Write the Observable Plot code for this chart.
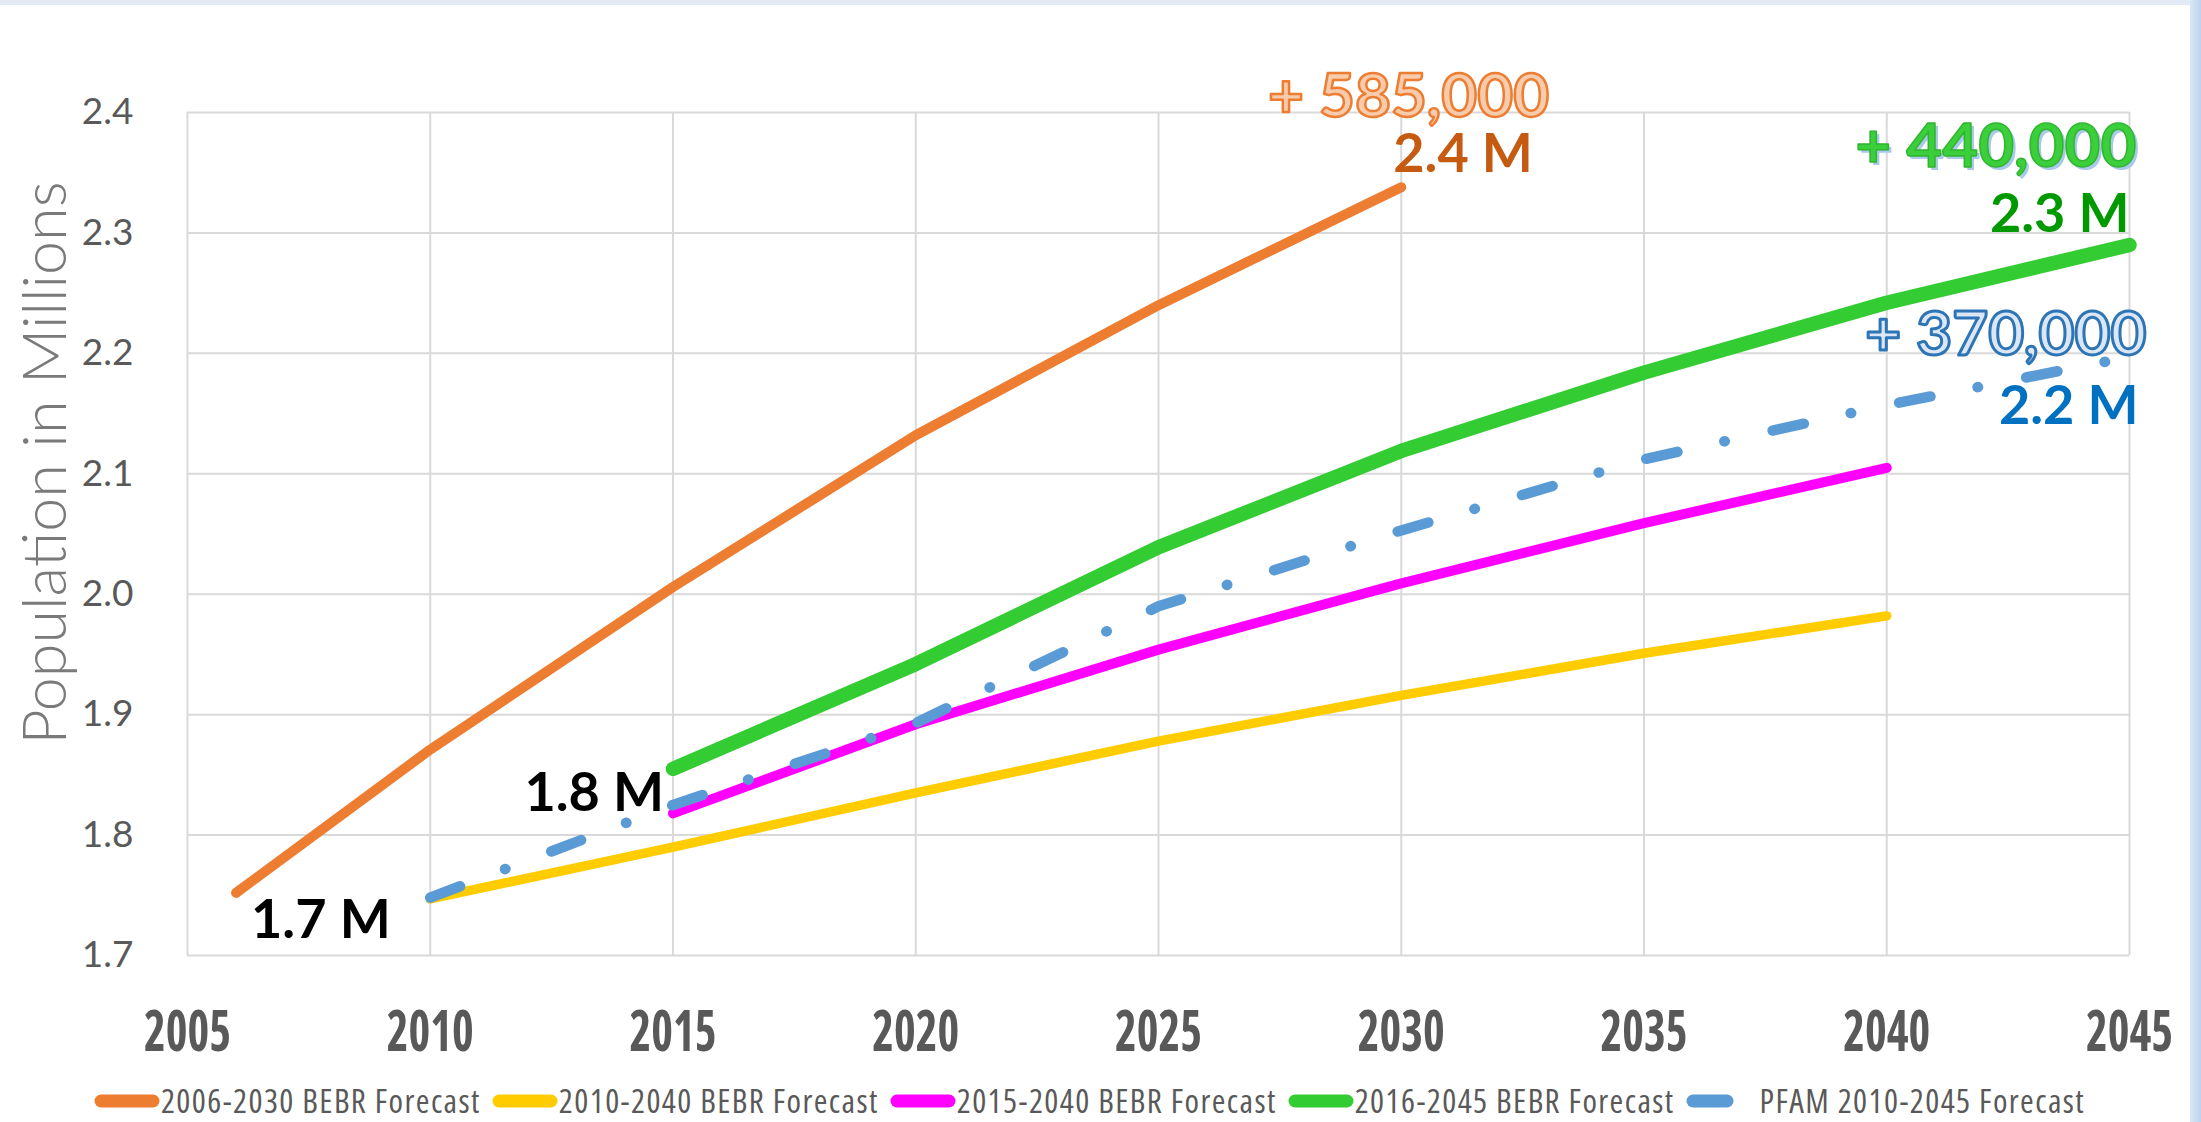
<!DOCTYPE html>
<html>
<head>
<meta charset="utf-8">
<script src="https://cdn.jsdelivr.net/npm/d3@7"></script>
<script src="https://cdn.jsdelivr.net/npm/@observablehq/plot@0.6"></script>
<style>
  html, body { margin: 0; padding: 0; background: #ffffff; }
  body { width: 2201px; height: 1122px; position: relative; overflow: hidden; }
  #topstrip { position: absolute; left: 0; top: 0; width: 100%; height: 5px; background: #e3eaf5; }
  #rightband { position: absolute; right: 0; top: 0; width: 11px; height: 100%; background: linear-gradient(to right, #d9e6f4, #bcd3ec); }
  #chart { position: absolute; left: 0; top: 0; }
  #legend { position: absolute; left: 0; top: 1085px; width: 2190px; height: 32px; display: flex; justify-content: center; align-items: center;
            font-family: "Open Sans", sans-serif; font-stretch: 75%; font-size: 33px; letter-spacing: 1.4px; line-height: 32px; color: #595959; white-space: nowrap; }
  .item { display: flex; align-items: center; margin-right: 11px; height: 32px; }
  .item svg { display: block; margin-right: 1px; }
  .item span { line-height: 32px; }
</style>
</head>
<body>
<div id="topstrip"></div>
<div id="rightband"></div>
<div id="chart"></div>
<div id="legend"></div>
<script>
// ---- data ----
const xTicks = [2005, 2010, 2015, 2020, 2025, 2030, 2035, 2040, 2045];
const yTicks = [1.7, 1.8, 1.9, 2.0, 2.1, 2.2, 2.3, 2.4];

const seriesNames = [
  "2006-2030 BEBR Forecast",
  "2010-2040 BEBR Forecast",
  "2015-2040 BEBR Forecast",
  "2016-2045 BEBR Forecast",
  "PFAM 2010-2045 Forecast"
];

const orangeYears  = [2006, 2010, 2015, 2020, 2025, 2030];
const orangeValues = [1.752, 1.871, 2.006, 2.132, 2.240, 2.338];

const yellowYears  = [2010, 2015, 2020, 2025, 2030, 2035, 2040];
const yellowValues = [1.747, 1.790, 1.835, 1.878, 1.916, 1.951, 1.982];

const magentaYears  = [2015, 2020, 2025, 2030, 2035, 2040];
const magentaValues = [1.818, 1.892, 1.954, 2.009, 2.059, 2.105];

const greenYears  = [2015, 2020, 2025, 2030, 2035, 2040, 2045];
const greenValues = [1.855, 1.942, 2.039, 2.119, 2.184, 2.242, 2.290];

const blueYears  = [2010, 2015, 2020, 2025, 2030, 2035, 2040, 2045];
const blueValues = [1.748, 1.825, 1.893, 1.990, 2.053, 2.112, 2.157, 2.197];

const labelTexts = ["1.7 M", "1.8 M", "2.4 M", "+ 585,000", "2.3 M", "+ 440,000", "+ 370,000", "2.2 M"];

// ---- build tables ----
const toRows = (ys, vs) => ys.map((y, i) => ({year: y, value: vs[i]}));
const orange = toRows(orangeYears, orangeValues);
const yellow = toRows(yellowYears, yellowValues);
const magenta = toRows(magentaYears, magentaValues);
const green = toRows(greenYears, greenValues);
const blue = toRows(blueYears, blueValues);

const colors = ["#ed7d31", "#ffcc00", "#ff00ff", "#33cc33", "#5b9bd5"];

const bigFont = "Lato, 'Open Sans', sans-serif";
const condFont = "'Open Sans', sans-serif";

function lbl(text, row, opts) {
  return Plot.text([text], {x: [row.year], y: [row.value], text: [text],
    fontFamily: bigFont, fontWeight: "bold", lineAnchor: "middle", ...opts});
}
const last = a => a[a.length - 1];

const lineStyle = {x: "year", y: "value", strokeLinecap: "round", strokeLinejoin: "round"};

const chart = Plot.plot({
  width: 2201,
  height: 1084,
  marginLeft: 187,
  marginRight: 72,
  marginTop: 112,
  marginBottom: 129,
  style: {background: "transparent", overflow: "visible"},
  x: {domain: [2005, 2045]},
  y: {domain: [1.7, 2.4]},
  marks: [
    Plot.gridX(xTicks, {stroke: "#d9d9d9", strokeOpacity: 1, strokeWidth: 2}),
    Plot.gridY(yTicks, {stroke: "#d9d9d9", strokeOpacity: 1, strokeWidth: 2}),
    Plot.axisX(xTicks, {tickSize: 0, tickPadding: 55, tickFormat: d => String(d), label: null,
      fontSize: 57, fontFamily: condFont, fontWeight: "bold", fill: "#595959"}),
    Plot.axisY(yTicks, {tickSize: 0, tickPadding: 54, tickFormat: d3.format(".1f"), label: null,
      fontSize: 37, fontFamily: "Lato, sans-serif", fill: "#595959"}),
    Plot.text(["Population in Millions"], {frameAnchor: "left", textAnchor: "middle", rotate: -90, dx: -141, dy: -71,
      fontSize: 61, fontFamily: "Lato, sans-serif", fontWeight: 300, fill: "#7a7a7a"}),
    Plot.line(orange, {...lineStyle, stroke: colors[0], strokeWidth: 10}),
    Plot.line(yellow, {...lineStyle, stroke: colors[1], strokeWidth: 9.5}),
    Plot.line(magenta, {...lineStyle, stroke: colors[2], strokeWidth: 10}),
    Plot.line(green, {...lineStyle, stroke: colors[3], strokeWidth: 14.5}),
    Plot.line(blue, {...lineStyle, stroke: colors[4], strokeWidth: 10.5, strokeDasharray: "32,48,0.5,49"}),
    // annotations
    lbl(labelTexts[0], orange[0], {textAnchor: "start", dx: 15, dy: 28, fontSize: 54, fill: "#000000"}),
    lbl(labelTexts[1], magenta[0], {textAnchor: "end", dx: -9, dy: -20, fontSize: 54, fill: "#000000"}),
    lbl(labelTexts[2], last(orange), {textAnchor: "start", dx: -8, dy: -32, fontSize: 54, fill: "#c55a11"}),
    lbl(labelTexts[3], last(orange), {textAnchor: "end", dx: 148, dy: -90, fontSize: 62,
      fill: "#f8cbad", stroke: "#ed7d31", strokeWidth: 2.5, paintOrder: "normal"}),
    lbl(labelTexts[4], last(green), {textAnchor: "end", dx: 0, dy: -30, fontSize: 54, fill: "#009a00"}),
    lbl(labelTexts[5], last(green), {textAnchor: "end", dx: 10, dy: -95, fontSize: 62, fill: "#a9c8ea"}),
    lbl(labelTexts[5], last(green), {textAnchor: "end", dx: 7, dy: -98, fontSize: 62,
      fill: "#3ccf3c", stroke: "#2fb52f", strokeWidth: 1.5, paintOrder: "normal"}),
    lbl(labelTexts[6], last(blue), {textAnchor: "end", dx: 17, dy: -22, fontSize: 62,
      fill: "#dbe7f6", stroke: "#2e75b6", strokeWidth: 3, paintOrder: "normal"}),
    lbl(labelTexts[7], last(blue), {textAnchor: "end", dx: 9, dy: 50, fontSize: 54, fill: "#0070c0"})
  ]
});
document.getElementById("chart").appendChild(chart);

// condense the bold year labels to the narrow look of the original (horizontal squeeze about each label's anchor)
const yearStrings = xTicks.map(String);
const targetYearWidth = 87;
d3.select(chart).selectAll("text")
  .filter(function () { return yearStrings.includes(this.textContent.trim()); })
  .each(function () {
    this.style.fontStretch = "75%";
    const tf = this.getAttribute("transform");
    const w = this.getComputedTextLength();
    if (!tf || !(w > 0)) return;
    const k = Math.min(1, targetYearWidth / w);
    this.setAttribute("transform", `${tf} scale(${k.toFixed(4)},1)`);
  });

// ---- legend ----
const legend = document.getElementById("legend");
seriesNames.forEach((name, i) => {
  const item = document.createElement("div");
  item.className = "item";
  const dashed = i === 4;
  const w = dashed ? 48 : 66;
  item.innerHTML = `<svg width="${w}" height="16"><line x1="7" x2="${w - 7}" y1="8" y2="8" stroke="${colors[i]}" stroke-width="13" stroke-linecap="round"/></svg>` +
    `<span style="margin-left:${dashed ? 25 : 0}px">${name}</span>`;
  legend.appendChild(item);
});
</script>
</body>
</html>
